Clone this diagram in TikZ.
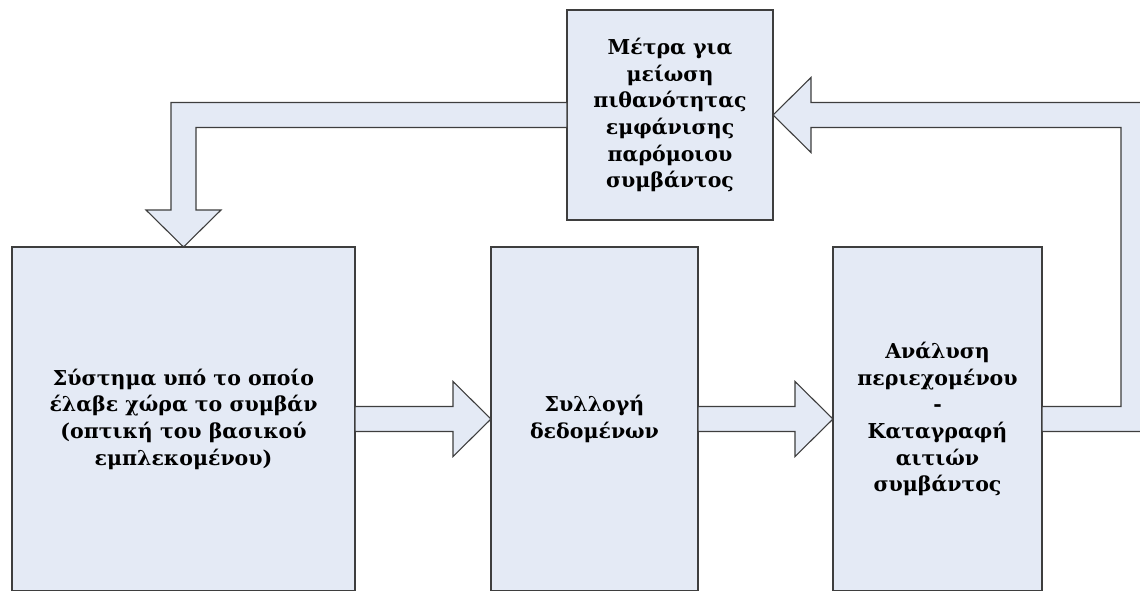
\documentclass[tikz,border=0pt]{standalone}
\usepackage{fontspec}
\setmainfont{DejaVu Serif}
\usetikzlibrary{calc}
\definecolor{boxfill}{RGB}{228,234,245}
\definecolor{boxline}{RGB}{62,62,62}
\begin{document}
\begin{tikzpicture}[x=1pt,y=-1pt,
  block/.style={draw=boxline, fill=boxfill, line width=1.1pt, align=center,
    font=\bfseries\fontsize{20.5}{26.7}\selectfont, inner sep=0pt, outer sep=0pt},
  flow/.style={draw=boxline, fill=boxfill, line width=1.1pt, line join=miter}]
\useasboundingbox (0,0) rectangle (1140,590);
\clip (0,0) rectangle (1140,590);

% process blocks
\node[block, minimum width=343pt, minimum height=344pt] (sys) at (183.5,419)
  {Σύστημα υπό το οποίο\\έλαβε χώρα το συμβάν\\(οπτική του βασικού\\εμπλεκομένου)};
\node[block, minimum width=207pt, minimum height=344pt] (coll) at (594.5,419)
  {Συλλογή\\δεδομένων};
\node[block, minimum width=209pt, minimum height=344pt] (anal) at (937.5,419)
  {Ανάλυση\\περιεχομένου\\-\\Καταγραφή\\αιτιών\\συμβάντος};
\node[block, minimum width=206pt, minimum height=210pt] (meas) at (670,115)
  {Μέτρα για\\μείωση\\πιθανότητας\\εμφάνισης\\παρόμοιου\\συμβάντος};

% bends of the feedback loop
\coordinate (turn) at (1133.5,419);
\coordinate (corner) at (1133.5,115);
\coordinate (bend) at (183.5,115);

% block arrows between the process blocks
\draw[flow] ($(sys.east)+(0,-12.5)$) -- ($(coll.west)+(-38,-12.5)$)
  -- ($(coll.west)+(-38,-37.5)$) -- (coll.west) -- ($(coll.west)+(-38,37.5)$)
  -- ($(coll.west)+(-38,12.5)$) -- ($(sys.east)+(0,12.5)$) -- cycle;
\draw[flow] ($(coll.east)+(0,-12.5)$) -- ($(anal.west)+(-38,-12.5)$)
  -- ($(anal.west)+(-38,-37.5)$) -- (anal.west) -- ($(anal.west)+(-38,37.5)$)
  -- ($(anal.west)+(-38,12.5)$) -- ($(coll.east)+(0,12.5)$) -- cycle;

% feedback from the analysis to the measures
\draw[flow] ($(anal.east)+(0,-12.5)$) -- ($(turn)+(-12.5,-12.5)$)
  -- ($(corner)+(-12.5,12.5)$) -- ($(meas.east)+(38,12.5)$)
  -- ($(meas.east)+(38,37.5)$) -- (meas.east) -- ($(meas.east)+(38,-37.5)$)
  -- ($(meas.east)+(38,-12.5)$) -- ($(corner)+(12.5,-12.5)$)
  -- ($(turn)+(12.5,12.5)$) -- ($(anal.east)+(0,12.5)$) -- cycle;

% measures fed back into the system
\draw[flow] ($(meas.west)+(0,-12.5)$) -- ($(bend)+(-12.5,-12.5)$)
  -- ($(sys.north)+(-12.5,-37)$) -- ($(sys.north)+(-37.5,-37)$) -- (sys.north)
  -- ($(sys.north)+(37.5,-37)$) -- ($(sys.north)+(12.5,-37)$)
  -- ($(bend)+(12.5,12.5)$) -- ($(meas.west)+(0,12.5)$) -- cycle;
\end{tikzpicture}
\end{document}
